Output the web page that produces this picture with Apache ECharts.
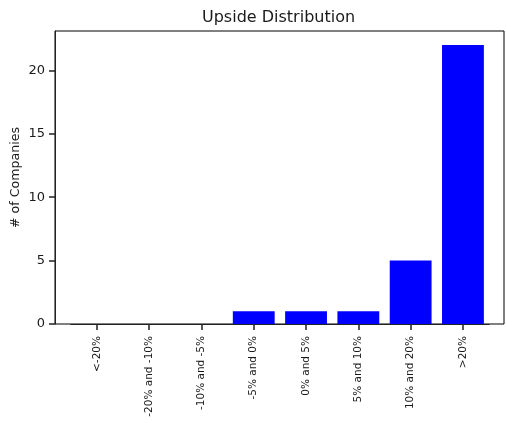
<!DOCTYPE html>
<html>
<head>
<meta charset="utf-8">
<script src="https://cdn.jsdelivr.net/npm/echarts@6/dist/echarts.min.js"></script>
<style>
  html, body { margin: 0; padding: 0; background: #fff; }
  #chart { width: 506px; height: 423px; }
</style>
</head>
<body>
<div id="chart"></div>
<script>
const categories = ['<-20%', '-20% and -10%', '-10% and -5%', '-5% and 0%', '0% and 5%', '5% and 10%', '10% and 20%', '>20%'];
const counts = [0, 0, 0, 1, 1, 1, 5, 22];
const yTicks = [0, 5, 10, 15, 20];

const FONT = 'DejaVu Sans';
const TXT = '#1a1a1a';
const Y_MIN = 0, Y_MAX = 23.1;

const chart = echarts.init(document.getElementById('chart'), null, { renderer: 'canvas' });
chart.setOption({
  animation: false,
  backgroundColor: '#fff',
  title: {
    text: 'Upside Distribution',
    left: 202,
    top: 10,
    padding: 0,
    textStyle: { fontFamily: FONT, fontSize: 16, fontWeight: 'normal', color: TXT }
  },
  grid: [
    {
      left: 55, right: 2, top: 31, bottom: 99,
      outerBoundsMode: 'none', containLabel: false,
      show: true, borderColor: '#000', borderWidth: 1, backgroundColor: 'transparent'
    },
    {
      left: 70.7, right: 16.9, top: 31, bottom: 99,
      outerBoundsMode: 'none', containLabel: false
    }
  ],
  xAxis: [
    { gridIndex: 0, type: 'value', min: 0, max: 1, show: false },
    {
      gridIndex: 1,
      type: 'category',
      data: categories,
      boundaryGap: true,
      axisLine: { show: true, onZero: false, lineStyle: { color: '#222', width: 1 } },
      axisTick: { show: true, alignWithLabel: true, length: 6, lineStyle: { color: '#222', width: 1.5 } },
      axisLabel: {
        interval: 0,
        rotate: 90,
        margin: 12,
        fontFamily: FONT,
        fontSize: 10.5,
        color: TXT
      },
      splitLine: { show: false }
    }
  ],
  yAxis: [
    {
      gridIndex: 0,
      type: 'value',
      min: Y_MIN,
      max: Y_MAX,
      interval: 5,
      name: '# of Companies',
      nameLocation: 'middle',
      nameGap: 33,
      nameMoveOverlap: false,
      nameTextStyle: { fontFamily: FONT, fontSize: 12.6, color: TXT },
      splitLine: { show: false },
      axisLine: { show: true, onZero: false, lineStyle: { color: '#222', width: 1 } },
      axisTick: { show: true, length: 6, lineStyle: { color: '#222', width: 1.5 } },
      axisLabel: { showMaxLabel: false, margin: 10, fontFamily: FONT, fontSize: 13, color: TXT }
    },
    { gridIndex: 1, type: 'value', min: Y_MIN, max: Y_MAX, show: false }
  ],
  series: [{
    type: 'bar',
    xAxisIndex: 1,
    yAxisIndex: 1,
    data: counts,
    barWidth: '80%',
    itemStyle: { color: '#0000ff' }
  }]
});
</script>
</body>
</html>
